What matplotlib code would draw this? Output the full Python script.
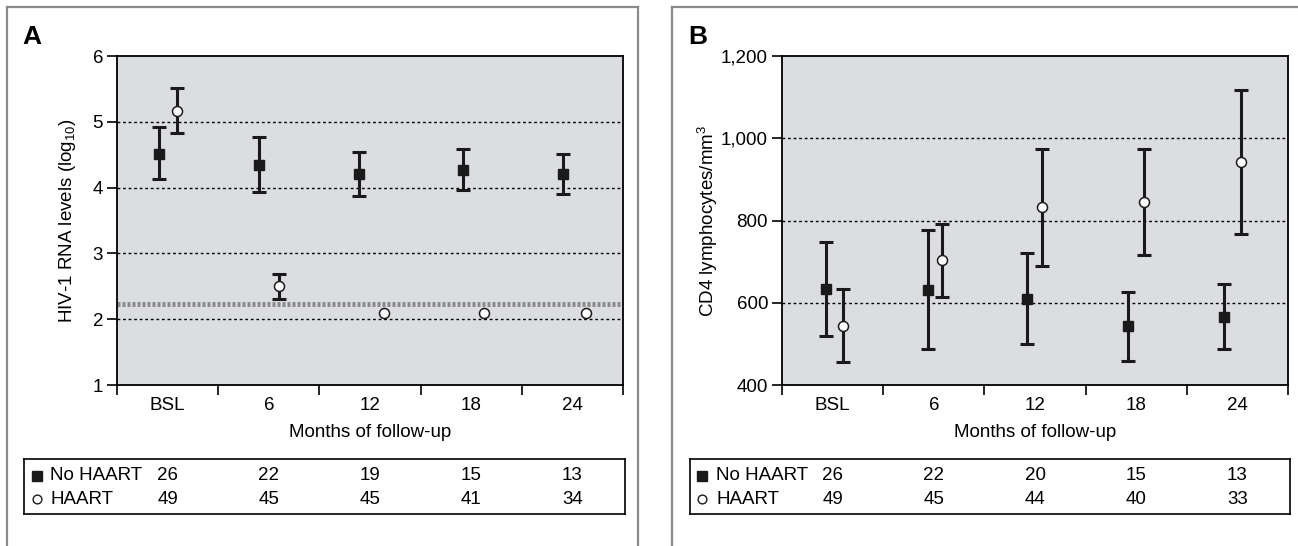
import matplotlib
matplotlib.use("Agg")
import matplotlib.pyplot as plt
from matplotlib.lines import Line2D

plt.rcParams['font.family'] = ['Liberation Sans', 'DejaVu Sans']
plt.rcParams['mathtext.fontset'] = 'custom'
plt.rcParams['mathtext.rm'] = 'Liberation Sans'
plt.rcParams['mathtext.it'] = 'Liberation Sans:italic'

# ---------------- data ----------------
categories = ["BSL", "6", "12", "18", "24"]

# Panel A: HIV-1 RNA (log10)
a_nohaart = [4.51, 4.34, 4.20, 4.27, 4.20]
a_nohaart_lo = [4.13, 3.93, 3.87, 3.97, 3.90]
a_nohaart_hi = [4.92, 4.77, 4.54, 4.58, 4.51]
a_haart = [5.16, 2.50, 2.10, 2.10, 2.10]
a_haart_lo = [4.83, 2.31, None, None, None]
a_haart_hi = [5.51, 2.69, None, None, None]
a_detect_limit = 2.23
a_n_nohaart = [26, 22, 19, 15, 13]
a_n_haart = [49, 45, 45, 41, 34]

# Panel B: CD4 lymphocytes/mm3
b_nohaart = [634, 631, 609, 543, 565]
b_nohaart_lo = [519, 487, 500, 458, 488]
b_nohaart_hi = [748, 777, 721, 626, 646]
b_haart = [544, 704, 833, 845, 943]
b_haart_lo = [456, 614, 690, 716, 767]
b_haart_hi = [633, 792, 974, 974, 1118]
b_n_nohaart = [26, 22, 20, 15, 13]
b_n_haart = [49, 45, 44, 40, 33]

# ---------------- layout ----------------
W, H = 1298, 546
fig = plt.figure(figsize=(W / 100, H / 100), dpi=100)

def fbox(x0, y0, x1, y1):
    return [x0 / W, 1 - y1 / H, (x1 - x0) / W, (y1 - y0) / H]

FS = 13.5
BG = '#dcdde0'
INK = '#1a1a1a'

def frame(x0, x1, y0, right=True):
    kw = dict(color='#8a8a8a', lw=1.6, transform=fig.transFigure, clip_on=False)
    fig.add_artist(Line2D([x0 / W, x0 / W], [1 - y0 / H, 0], **kw))
    fig.add_artist(Line2D([x0 / W, x1 / W], [1 - y0 / H, 1 - y0 / H], **kw))
    if right:
        fig.add_artist(Line2D([x1 / W, x1 / W], [1 - y0 / H, 0], **kw))

def panel(ax_px, tab_px, mark_px, lab_px, ylim, yticks, yticklabels, ylabel, ylab_x,
          letter, letter_x, sq, sq_lo, sq_hi, ci, ci_lo, ci_hi, sq_off, ci_off,
          n1, n2, hline=None):
    ax = fig.add_axes(fbox(*ax_px))
    ax.set_facecolor(BG)
    ax.set_xlim(-0.5, 4.5)
    ax.set_ylim(*ylim)
    for s in ax.spines.values():
        s.set_color('black'); s.set_linewidth(1.3)
    ax.set_yticks(yticks)
    ax.set_yticklabels(yticklabels, fontsize=FS)
    ax.set_xticks([i - 0.5 for i in range(6)])
    ax.set_xticklabels([])
    ax.set_xticks(range(5), minor=True)
    ax.set_xticklabels(categories, minor=True, fontsize=FS)
    ax.tick_params(axis='x', which='major', direction='out', length=7, width=1.2)
    ax.tick_params(axis='x', which='minor', length=0, pad=9)
    ax.tick_params(axis='y', direction='out', length=7, width=1.2, pad=3)
    for g in yticks[1:-1]:
        ax.axhline(g, color='black', lw=1.0, ls=(0, (2, 2)), zorder=1)
    if hline is not None:
        ax.axhline(hline, color='#8c8c8c', lw=3.6, ls=(0, (0.6, 0.4)), zorder=1.5)
    ax.set_xlabel('Months of follow-up', fontsize=FS, labelpad=7)
    fig.text(ylab_x / W, 1 - (ax_px[1] + ax_px[3]) / 2 / H, ylabel, rotation=90,
             ha='center', va='center', fontsize=FS)
    fig.text(letter_x / W, 1 - 37 / H, letter, fontsize=19, fontweight='bold',
             ha='center', va='center')
    xs = range(5)
    for i in xs:
        x = i + sq_off[i]
        ax.errorbar([x], [sq[i]], yerr=[[sq[i] - sq_lo[i]], [sq_hi[i] - sq[i]]],
                    fmt='s', color=INK, ms=7, ecolor=INK, elinewidth=2.2,
                    capsize=5, capthick=2.2, zorder=3)
    for i in xs:
        x = i + ci_off[i]
        if ci_lo[i] is not None:
            ax.errorbar([x], [ci[i]], yerr=[[ci[i] - ci_lo[i]], [ci_hi[i] - ci[i]]],
                        fmt='none', ecolor=INK, elinewidth=2.2,
                        capsize=5, capthick=2.2, zorder=3)
        ax.plot([x], [ci[i]], 'o', ms=7.2, mfc='white', mec=INK, mew=1.1, zorder=4)
    # table
    s = (ax_px[2] - ax_px[0]) / 5.0
    tx0, ty0, tx1, ty1 = tab_px
    axt = fig.add_axes(fbox(*tab_px))
    axt.set_xlim(-0.5 - (ax_px[0] - tx0) / s, 4.5 + (tx1 - ax_px[2]) / s)
    axt.set_ylim(0, 1)
    axt.set_xticks([]); axt.set_yticks([])
    axt.set_facecolor('white')
    for sp in axt.spines.values():
        sp.set_color('black'); sp.set_linewidth(1.2)
    r1 = (ty1 - 476) / (ty1 - ty0)
    r2 = (ty1 - 499) / (ty1 - ty0)
    mfx = (mark_px - tx0) / (tx1 - tx0)
    lfx = (lab_px - tx0) / (tx1 - tx0)
    axt.plot([mfx], [r1], 's', ms=6.8, color=INK, transform=axt.transAxes)
    axt.plot([mfx], [r2], 'o', ms=6.3, mfc='white', mec=INK, mew=1.0,
             transform=axt.transAxes)
    axt.text(lfx, r1, 'No HAART', transform=axt.transAxes, fontsize=FS, ha='left', va='center')
    axt.text(lfx, r2, 'HAART', transform=axt.transAxes, fontsize=FS, ha='left', va='center')
    for i in xs:
        axt.text(i, r1, str(n1[i]), fontsize=FS, ha='center', va='center')
        axt.text(i, r2, str(n2[i]), fontsize=FS, ha='center', va='center')
    return ax

frame(7, 638, 7)
frame(672, 1310, 7, right=False)

panel((117, 56, 623, 385), (24, 459, 625, 514), 37, 50,
      (1, 6), [1, 2, 3, 4, 5, 6], ['1', '2', '3', '4', '5', '6'],
      'HIV-1 RNA levels (log$_{10}$)', 67, 'A', 32,
      a_nohaart, a_nohaart_lo, a_nohaart_hi, a_haart, a_haart_lo, a_haart_hi,
      [-0.085, -0.095, -0.105, -0.085, -0.095], [0.095, 0.105, 0.135, 0.125, 0.135],
      a_n_nohaart, a_n_haart, hline=a_detect_limit)

panel((782, 56, 1288, 385), (690, 459, 1290, 514), 702, 716,
      (400, 1200), [400, 600, 800, 1000, 1200], ['400', '600', '800', '1,000', '1,200'],
      'CD4 lymphocytes/mm$^3$', 708, 'B', 698,
      b_nohaart, b_nohaart_lo, b_nohaart_hi, b_haart, b_haart_lo, b_haart_hi,
      [-0.065, -0.057, -0.079, -0.081, -0.132], [0.099, 0.079, 0.066, 0.074, 0.034],
      b_n_nohaart, b_n_haart)

fig.savefig('out.png', dpi=100)
